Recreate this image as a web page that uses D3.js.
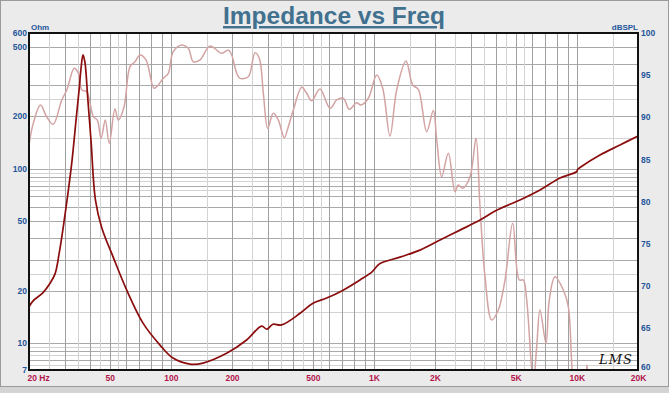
<!DOCTYPE html>
<html><head><meta charset="utf-8">
<script src="https://cdn.jsdelivr.net/npm/d3@7"></script>
<style>
html,body{margin:0;padding:0;background:#ebebeb;}
svg{display:block;}
</style></head>
<body>
<svg id="c" width="669" height="393"></svg>
<script>
// ---- data ----
const title = "Impedance vs Freq";
const freqTicks = [20,50,100,200,500,1000,2000,5000,10000,20000];
const freqTickLabels = ["20 Hz","50","100","200","500","1K","2K","5K","10K","20K"];
const ohmTicks = [600,500,200,100,50,20,10,7];
const dbTicks = [100,95,90,85,80,75,70,65,60];
const vGridMultiples = [1,1.5,2,2.5,3,3.5,4,4.5,5,5.5,6,7,8,9];
const hGridMultiples = [1,1.5,2,2.5,3,4,5,6,7,7.5,8,8.5,9,9.5];

// impedance curve (Hz, Ohm)
const impFreq = [20,20.9,23.4,25.4,26.9,28.2,29.4,31.1,32.6,34.1,35.3,36.1,36.9,37.7,39.0,40.4,42.5,45.6,51.9,60.6,72.9,88.4,102.4,124,144,189,236,280,297,318,351,433,501,585,705,854,979,1036,1072,1344,1687,2117,2656,3332,4040,5244,6580,8258,9955,10123,10360,12992,16300,20000];
const impOhm  = [16.1,17.4,19.4,22.0,25.0,33.0,45.0,72.0,112,190,283,378,449,409,248,146,66,46,31.2,20.1,13.0,9.73,8.2,7.57,7.67,8.75,10.4,12.5,12.0,12.8,12.7,14.8,16.9,18.1,20.1,23.0,25.6,27.6,28.6,31.1,34.1,39.0,44.4,50.7,57.9,66.1,75.4,88.4,96,99.5,101.6,119.7,136.7,154];

// SPL curve (Hz, dB)
const splFreq = [20,21.0,22.8,24.4,26.3,29.0,30.7,33.4,35.0,36.4,38.5,41.5,43.4,45.3,47.5,49.7,53.0,55.1,58.8,62.9,66.6,70.4,75.4,82.6,86.7,91.7,97.1,102.7,113,121.8,128.9,139.1,155.8,178,191.8,199.3,211,219,240.6,259.7,272.6,285.4,299.9,319.5,338.2,362,378.8,401,441,466.7,494,542.6,607.7,656,706.8,756.7,823,861,938.6,1032,1105,1200,1295,1439,1553,1655,1820,1962,2040,2158,2326,2510,2606,2738,2976,3184,3332,3527,3805,4100,4424,4829,5206,5446,5659,6100,6339,6580,7044,7311,7800,8572,9072,9602,10360,10964,11216,11470,12286];
const splDb   = [86.7,89.3,91.45,90.07,89.16,92.05,93.23,95.81,95.22,93.23,93.03,90.07,89.67,87.5,89.67,86.91,90.98,89.67,91.25,96.0,96.59,97.39,96.8,93.44,93.83,94.62,95.22,97.78,98.58,98.18,96.59,96.8,98.46,97.59,97.98,97.39,95.22,94.62,94.81,97.66,97.0,92.84,88.69,90.47,89.67,87.57,88.88,90.86,93.56,92.84,91.96,93.35,91.06,92.05,92.25,90.94,91.73,91.45,92.25,95.01,93.44,87.77,93.23,96.68,93.83,93.32,88.29,90.8,87.3,82.94,85.72,81.16,81.96,81.57,82.94,87.5,79.38,71.08,65.94,67.12,70.68,77.41,70.68,70.68,68.31,58.5,62.77,67.12,63.17,68.31,71.08,69.5,67.51,58.5,55,57,60.6,57,54];

// ---- drawing ----
const svg = d3.select("#c");
const L = 29, R = 638, T = 33, B = 370;
const x = d3.scaleLog().domain([20,20000]).range([L,R]);
const yL = d3.scaleLog().domain([7,600]).range([B,T]);
const yR = d3.scaleLinear().domain([60,100]).range([B,T]);

// outer frame
svg.append("rect").attr("x",0.5).attr("y",0.5).attr("width",668).attr("height",386)
  .attr("fill","#ebebeb").attr("stroke","#9a9a9a");
svg.append("rect").attr("x",0).attr("y",387).attr("width",669).attr("height",6).attr("fill","#d4d4d4");

// plot background
svg.append("rect").attr("x",L).attr("y",T).attr("width",R-L).attr("height",B-T).attr("fill","#fff");

// grid
const g = svg.append("g");
const vLines = [];
[10,100,1000,10000].forEach(dec => vGridMultiples.forEach(m => {
  const f = dec*m; if (f>20 && f<20000) vLines.push({v:f, major:Number.isInteger(m)});
}));
const hLines = [];
[1,10,100].forEach(dec => hGridMultiples.forEach(m => {
  const o = dec*m; if (o>7 && o<600) hLines.push({v:o, major:Number.isInteger(m)});
}));
g.selectAll(".hl").data(hLines).join("line")
  .attr("x1",L).attr("x2",R)
  .attr("y1",d=>Math.round(yL(d.v))+0.5).attr("y2",d=>Math.round(yL(d.v))+0.5)
  .attr("stroke",d=>d.major?"#a9a9a9":"#d3d3d3").attr("stroke-width",1);
g.selectAll(".vl").data(vLines).join("line")
  .attr("y1",T).attr("y2",B)
  .attr("x1",d=>Math.round(x(d.v))+0.5).attr("x2",d=>Math.round(x(d.v))+0.5)
  .attr("stroke",d=>d.major?"#a0a0a0":"#d3d3d3").attr("stroke-width",1);

// clip
svg.append("clipPath").attr("id","clip").append("rect")
  .attr("x",L).attr("y",T).attr("width",R-L).attr("height",B-T);

const splData = splFreq.map((f,i)=>[f,splDb[i]]);
const impData = impFreq.map((f,i)=>[f,impOhm[i]]);

svg.append("path").attr("clip-path","url(#clip)")
  .attr("d", d3.line().x(d=>x(d[0])).y(d=>yR(d[1])).curve(d3.curveCatmullRom.alpha(0.5))(splData))
  .attr("fill","none").attr("stroke","#d3a3a3").attr("stroke-width",1.5);

svg.append("path").attr("clip-path","url(#clip)")
  .attr("d", d3.line().x(d=>x(d[0])).y(d=>yL(d[1])).curve(d3.curveCatmullRom.alpha(0.5))(impData))
  .attr("fill","none").attr("stroke","#8b0d0d").attr("stroke-width",1.7);

// frame
svg.append("rect").attr("x",L).attr("y",T).attr("width",R-L).attr("height",B-T)
  .attr("fill","none").attr("stroke","#111").attr("stroke-width",2);

// axes labels
const font = "'Liberation Sans', Arial, sans-serif";
const axL = svg.append("g").attr("transform",`translate(${L-2},0)`)
  .call(d3.axisLeft(yL).tickValues(ohmTicks).tickSize(0).tickPadding(0).tickFormat(d3.format("d")));
const axR = svg.append("g").attr("transform",`translate(${R+3},0)`)
  .call(d3.axisRight(yR).tickValues(dbTicks).tickSize(0).tickPadding(0).tickFormat(d3.format("d")));
[axL,axR].forEach(a=>{
  a.select(".domain").remove();
  a.selectAll("text").attr("fill","#24569a").attr("font-family",font)
   .attr("font-weight","bold").attr("font-size",8.5);
});
axR.selectAll(".tick").filter(d=>d===60).select("text").attr("dy","-0.1em");

const axB = svg.append("g").attr("transform",`translate(0,${B+5})`)
  .call(d3.axisBottom(x).tickValues(freqTicks).tickSize(0).tickPadding(0)
    .tickFormat((d,i)=>freqTickLabels[i]));
axB.select(".domain").remove();
axB.selectAll("text").attr("fill","#b3154c").attr("font-family",font)
  .attr("font-weight","bold").attr("font-size",8.5);
axB.selectAll(".tick").filter(d=>d===20).select("text").attr("text-anchor","start").attr("dx",-2);

svg.append("text").attr("x",31).attr("y",30).text("Ohm")
  .attr("fill","#24569a").attr("font-family",font).attr("font-weight","bold").attr("font-size",8);
svg.append("text").attr("x",638).attr("y",30).attr("text-anchor","end").text("dBSPL")
  .attr("fill","#24569a").attr("font-family",font).attr("font-weight","bold").attr("font-size",8);

// title
svg.append("text").attr("x",334).attr("y",24).attr("text-anchor","middle").text(title)
  .attr("fill","#41718f").attr("font-family",font).attr("font-weight","bold").attr("font-size",24.5)
  .attr("text-decoration","underline");

// LMS mark
svg.append("text").attr("x",616).attr("y",364).attr("text-anchor","middle").text("LMS")
  .attr("fill","#111").attr("font-family","'DejaVu Serif', serif").attr("font-style","italic")
  .attr("font-size",13).attr("letter-spacing",1);
</script>
</body></html>
